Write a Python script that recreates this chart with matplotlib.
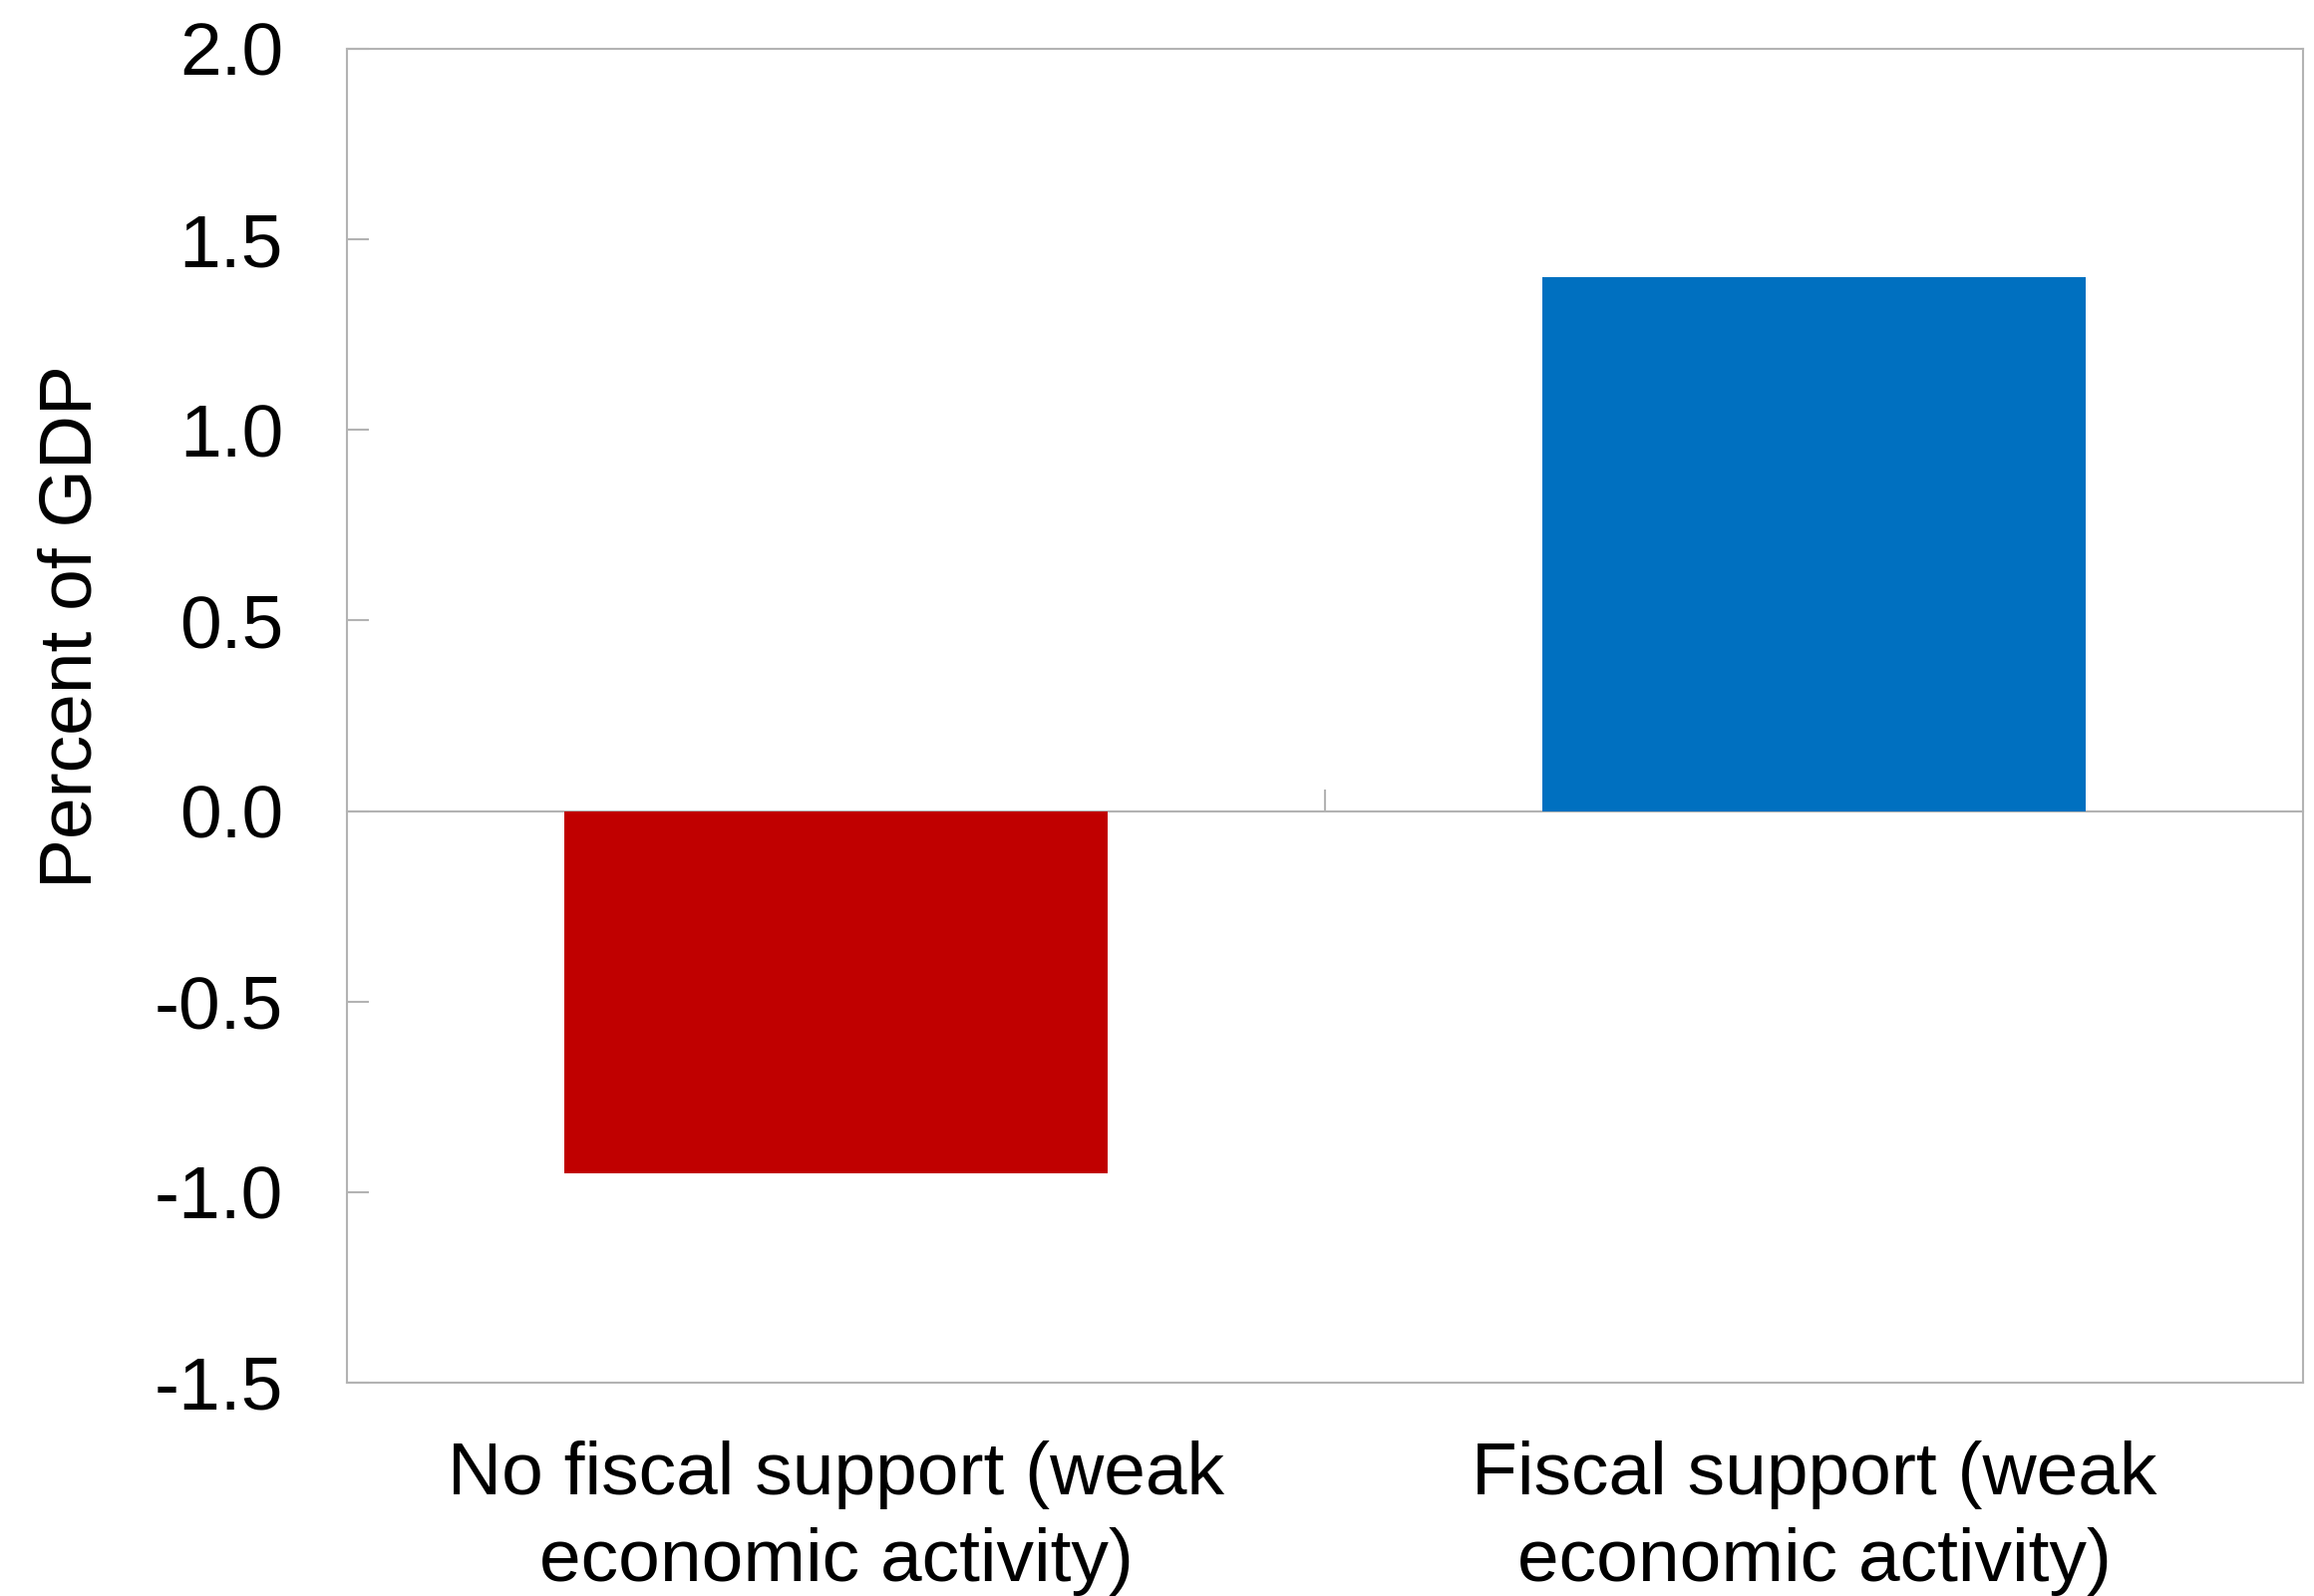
import matplotlib
matplotlib.use('Agg')
import matplotlib.pyplot as plt

categories = ['No fiscal support (weak\neconomic activity)', 'Fiscal support (weak\neconomic activity)']
values = [-0.95, 1.40]
colors = ['#C00000', '#0070C0']
yticks = [-1.5, -1.0, -0.5, 0.0, 0.5, 1.0, 1.5, 2.0]

plt.rcParams['font.family'] = ['Liberation Sans', 'DejaVu Sans']
grey = '#b3b3b3'
fs = 54

fig = plt.figure(figsize=(23.21, 16.01), dpi=100)
ax = fig.add_axes([0.1499, 0.1337, 0.8454, 0.8357])

x = list(range(len(categories)))
ax.bar(x, values, width=0.555, color=colors, zorder=2)

ymin, ymax = -1.5, 2.0
ax.set_ylim(ymin, ymax)
ax.set_xlim(-0.5, len(categories) - 0.5)
ax.set_yticks(yticks)
ax.set_yticklabels(['%.1f' % v for v in yticks])
ax.tick_params(axis='y', direction='in', length=16, width=1.5, color=grey, pad=46, labelsize=fs)
ax.set_xticks(x)
ax.set_xticklabels(categories, linespacing=1.32)
ax.tick_params(axis='x', length=0, pad=42, labelsize=fs)

for s in ax.spines.values():
    s.set_color(grey)
    s.set_linewidth(1.5)

# category axis crossing at zero, with the boundary tick between categories
sec = ax.secondary_xaxis((0 - ymin) / (ymax - ymin))
sec.set_xticks([0.5])
sec.set_xticklabels([''])
sec.tick_params(direction='in', length=16, width=1.5, color=grey)
sec.spines['bottom'].set_color(grey)
sec.spines['bottom'].set_linewidth(1.5)
sec.spines['top'].set_color(grey)
sec.spines['top'].set_linewidth(1.5)

ax.set_ylabel('Percent of GDP', fontsize=fs)
ax.yaxis.set_label_coords(-0.123, 0.5665)

fig.savefig('out.png', dpi=100)
